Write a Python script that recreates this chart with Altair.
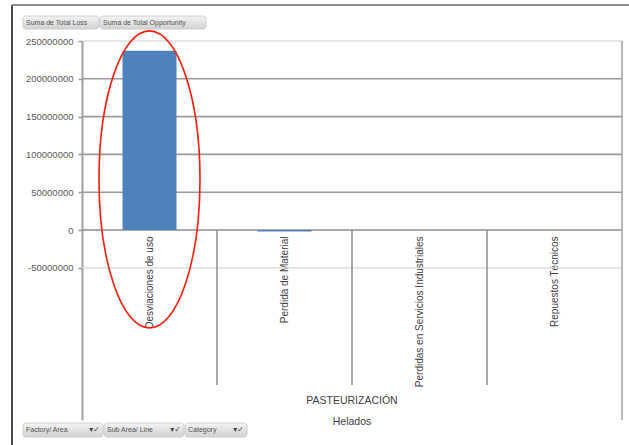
import altair as alt
import pandas as pd

# ---------------- data ----------------
categories = ["Desviaciones de uso", "Perdida de Material",
              "Perdidas en Servicios Industriales", "Repuestos Técnicos"]
values = [237000000, -2000000, 0, 0]
y_ticks = [-50000000, 0, 50000000, 100000000, 150000000, 200000000, 250000000]
grid_colors = ["#d9d9d9", "#8c8c8c", "#9a9a9a", "#9a9a9a", "#9a9a9a", "#9a9a9a", "#d0d0d0"]
group_label = "PASTEURIZACIÓN"
factory_label = "Helados"
top_buttons = ["Suma de Total Loss", "Suma de Total Opportunity"]
bottom_buttons = ["Factory/ Area", "Sub Area/ Line", "Category"]
highlight_category = "Desviaciones de uso"
highlight_center = 66900000

Y_MIN = -251300000
Y_MAX = 250000000
SEP_BOTTOM = -205000000

FONT = "Liberation Sans"

df = pd.DataFrame({"cat": categories, "value": values})
grid_df = pd.DataFrame({"y": y_ticks, "color": grid_colors,
                        "w": [1.2 if c in ("#d9d9d9", "#d0d0d0") else 1.6 for c in grid_colors]})
sep_df = pd.DataFrame({"cat": categories[1:]})
right_df = pd.DataFrame({"cat": categories[-1:]})
hl_df = pd.DataFrame({"cat": [highlight_category], "y": [highlight_center]})
one = pd.DataFrame({"k": [0]})

xscale = alt.Scale(domain=categories, paddingInner=0, paddingOuter=0)
yscale = alt.Scale(domain=[Y_MIN, Y_MAX], nice=False, zero=False)

x_axis = alt.Axis(orient="bottom", offset=-190, labelAngle=270, domain=False,
                  ticks=False, labelPadding=6, labelFontSize=10, grid=False,
                  labelColor="#404040", labelLimit=300, labelFont=FONT, title=None)
y_axis = alt.Axis(values=y_ticks, labelExpr="'' + datum.value", grid=False,
                  tickSize=4, tickColor="#9a9a9a", tickWidth=1.5,
                  domainColor="#a0a0a0", domainWidth=2, labelPadding=5,
                  labelFontSize=9.5, labelColor="#595959", labelFont=FONT, title=None)

grid = alt.Chart(grid_df).mark_rule().encode(
    y=alt.Y("y:Q", scale=yscale, axis=y_axis),
    color=alt.Color("color:N", scale=None),
    strokeWidth=alt.StrokeWidth("w:Q", scale=None),
)

bars = alt.Chart(df).mark_bar(width={"band": 0.4}, color="#4f81bd").encode(
    x=alt.X("cat:N", scale=xscale, sort=categories, axis=x_axis),
    y=alt.Y("value:Q", scale=yscale, axis=y_axis),
    y2=alt.datum(0),
)

seps = alt.Chart(sep_df).mark_rule(color="#8c8c8c", strokeWidth=1.5).encode(
    x=alt.X("cat:N", scale=xscale, sort=categories, bandPosition=0, axis=x_axis),
    y=alt.datum(0, scale=yscale, axis=y_axis),
    y2=alt.datum(SEP_BOTTOM),
)

right_border = alt.Chart(right_df).mark_rule(color="#a0a0a0", strokeWidth=1.5).encode(
    x=alt.X("cat:N", scale=xscale, sort=categories, bandPosition=1, axis=x_axis),
    y=alt.datum(Y_MAX, scale=yscale, axis=y_axis),
    y2=alt.datum(Y_MIN),
)

ellipse_path = "M 0 -1 A 0.34 1 0 1 1 0 1 A 0.34 1 0 1 1 0 -1 Z"
ellipse = alt.Chart(hl_df).mark_point(shape=ellipse_path, size=88300, filled=False,
                                      stroke="#ff1a0a", strokeWidth=1.6, opacity=1).encode(
    x=alt.X("cat:N", scale=xscale, sort=categories, axis=x_axis),
    y=alt.Y("y:Q", scale=yscale, axis=y_axis),
)

# frame of the screenshot
frame_left = alt.Chart(one).mark_rule(color="#111111", strokeWidth=1.5).encode(
    x=alt.value(-70), y=alt.value(-36), y2=alt.value(404))
frame_top = alt.Chart(one).mark_rule(color="#8a8a8a", strokeWidth=2).encode(
    x=alt.value(-70), x2=alt.value(547), y=alt.value(-36))

grad = alt.Gradient(gradient="linear", x1=0, x2=0, y1=0, y2=1,
                    stops=[alt.GradientStop(color="#f4f4f4", offset=0),
                           alt.GradientStop(color="#d2d2d2", offset=1)])


def button(label, x0, x1, y0, y1, icon=False):
    d = pd.DataFrame({"t": [label]})
    rect = alt.Chart(d).mark_rect(fill=grad, stroke="#c4c4c4", strokeWidth=0.8,
                                  cornerRadius=3).encode(
        x=alt.value(x0), x2=alt.value(x1), y=alt.value(y0), y2=alt.value(y1))
    txt = alt.Chart(d).mark_text(align="left", baseline="middle", fontSize=7,
                                 color="#505050", font=FONT).encode(
        x=alt.value(x0 + 3), y=alt.value((y0 + y1) / 2), text="t:N")
    layers = [rect, txt]
    if icon:
        ic = alt.Chart(d).mark_text(align="right", baseline="middle", fontSize=8,
                                    color="#404040", font="DejaVu Sans").encode(
            x=alt.value(x1 - 3), y=alt.value((y0 + y1) / 2), text=alt.value("▾✓"))
        layers.append(ic)
    return layers


btn_layers = []
btn_layers += button(top_buttons[0], -59, 17, -25, -12)
btn_layers += button(top_buttons[1], 18, 124, -25, -12)
btn_layers += button(bottom_buttons[0], -59, 21, 382, 396, icon=True)
btn_layers += button(bottom_buttons[1], 22, 102, 382, 396, icon=True)
btn_layers += button(bottom_buttons[2], 103, 165, 382, 396, icon=True)

group_txt = alt.Chart(pd.DataFrame({"t": [group_label]})).mark_text(
    align="center", baseline="middle", fontSize=10.5, color="#404040", font=FONT).encode(
    x=alt.value(270), y=alt.value(360), text="t:N")
fact_txt = alt.Chart(pd.DataFrame({"t": [factory_label]})).mark_text(
    align="center", baseline="middle", fontSize=10.5, color="#404040", font=FONT).encode(
    x=alt.value(270), y=alt.value(381), text="t:N")

chart = alt.layer(
    grid, bars, seps, right_border, ellipse, frame_left, frame_top,
    group_txt, fact_txt, *btn_layers
).properties(
    width=540, height=379,
    autosize=alt.AutoSizeParams(type="none"),
    padding={"left": 82, "top": 41, "right": 7, "bottom": 25},
    background="white",
).configure(font=FONT).configure_view(strokeWidth=0)

chart.save("out.html", embed_options={"renderer": "svg", "actions": False})
